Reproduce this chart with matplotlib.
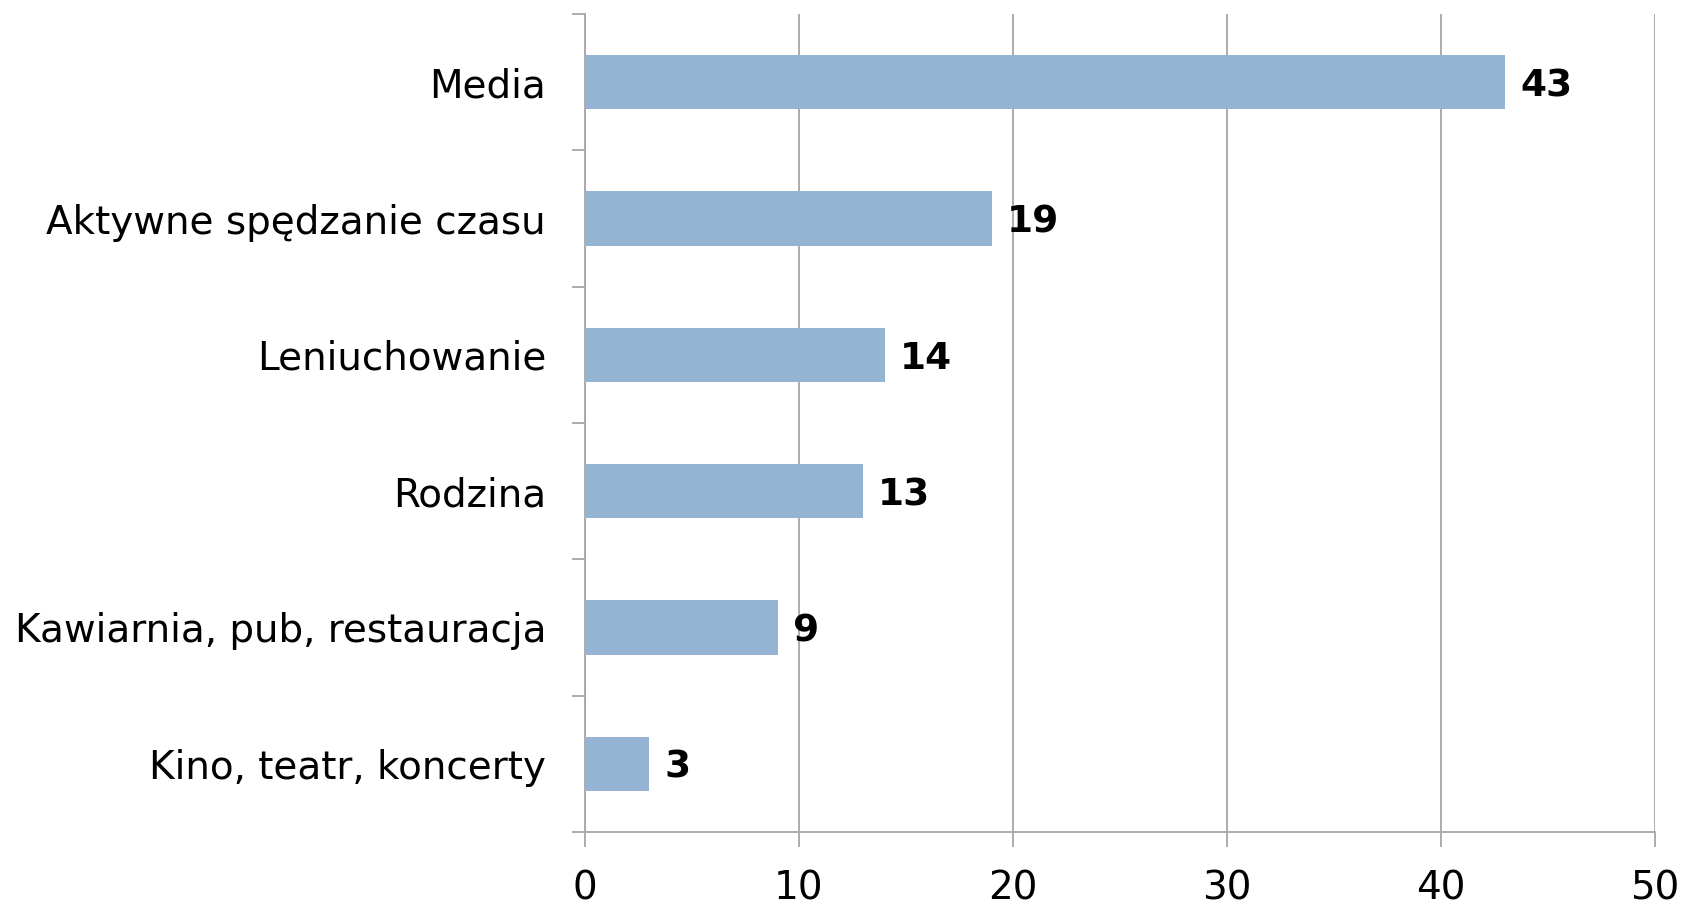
import matplotlib
matplotlib.use("Agg")
import matplotlib.pyplot as plt
from matplotlib.ticker import FixedLocator

categories = ["Media", "Aktywne spędzanie czasu", "Leniuchowanie", "Rodzina",
              "Kawiarnia, pub, restauracja", "Kino, teatr, koncerty"]
values = [43, 19, 14, 13, 9, 3]
x_ticks = [0, 10, 20, 30, 40, 50]

plt.rcParams['font.family'] = ['DejaVu Sans']

fig = plt.figure(figsize=(16.88, 9.09), dpi=100)
ax = fig.add_axes([585/1688, 77/909, (1655-585)/1688, (832-14)/909])

n = len(categories)
ypos = list(range(n))[::-1]
ax.barh(ypos, values, height=0.4, color="#95B3D3", zorder=3)

for y, v in zip(ypos, values):
    ax.text(v + 0.7, y, str(v), va="center_baseline", ha="left", fontsize=27,
            fontweight="bold", color="black", zorder=4)

ax.set_xlim(0, 50)
ax.set_ylim(-0.5, n - 0.5)
ax.set_xticks(x_ticks)
ax.set_xticklabels([str(t) for t in x_ticks], fontsize=28)
ax.set_yticks(ypos)
ax.set_yticklabels(categories, fontsize=28)
ax.yaxis.set_minor_locator(FixedLocator([i - 0.5 for i in range(n + 1)]))

gc = "#A6A6A6"
ax.grid(axis="x", color=gc, linewidth=1.3, zorder=0)
for s in ["top", "right"]:
    ax.spines[s].set_visible(False)
for s in ["left", "bottom"]:
    ax.spines[s].set_color(gc)
    ax.spines[s].set_linewidth(1.3)

ax.tick_params(axis="y", which="major", length=0, pad=28)
ax.tick_params(axis="y", which="minor", length=9.5, width=1.3, color=gc)
ax.tick_params(axis="x", which="major", length=11, width=1.3, color=gc, pad=16)

fig.savefig("out.png", dpi=100, facecolor="white")
